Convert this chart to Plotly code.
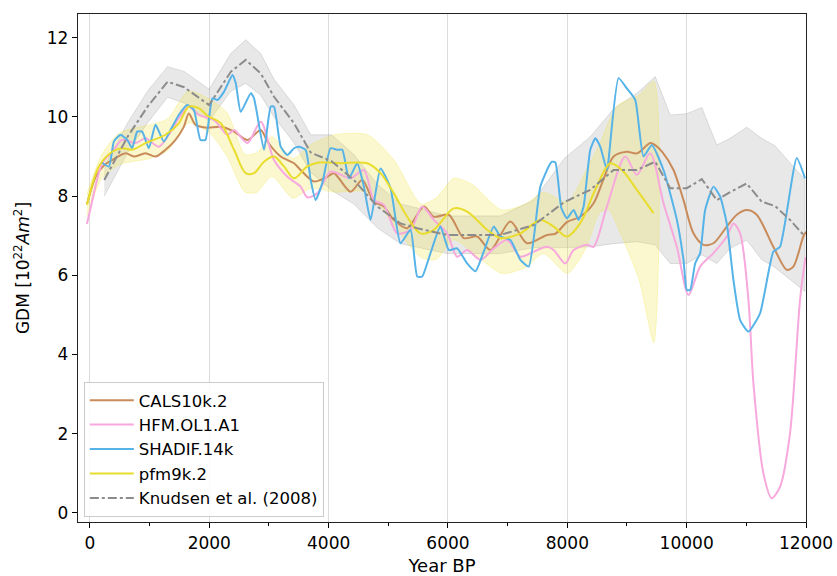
import plotly.graph_objects as go

# ---------------- data ----------------
cals_years = [-50, 100, 250, 373, 597, 736, 931, 1099, 1266, 1434, 1573, 1657, 1769, 1964, 2192, 2415,
              2639, 2862, 2974, 3197, 3420, 3531, 3754, 3978, 4089, 4368, 4563, 4758, 4926, 5093, 5317,
              5596, 5763, 6014, 6265, 6488, 6712, 7046, 7325, 7660, 7800, 8000, 8217, 8440, 8600, 8775,
              8998, 9166, 9389, 9473, 9600, 9780, 9947, 10114, 10282, 10449, 10672, 10840, 11006, 11174,
              11453, 11677, 11788, 11955, 12000]
cals_vals = [7.8, 8.5, 8.8, 8.91, 9.08, 9.0, 9.08, 9.0, 9.17, 9.42, 9.75, 10.09, 9.8, 9.73, 9.75, 9.63,
             9.42, 9.67, 9.38, 9.0, 8.83, 8.66, 8.37, 8.49, 8.58, 8.11, 8.41, 7.86, 7.74, 7.4, 7.19,
             7.74, 7.48, 7.53, 6.94, 6.98, 6.64, 7.36, 6.81, 7.02, 7.05, 7.35, 7.48, 7.82, 8.4, 9.0,
             9.12, 9.08, 9.34, 9.29, 9.1, 8.66, 7.9, 7.06, 6.77, 6.81, 7.23, 7.53, 7.65, 7.53,
             6.72, 6.14, 6.22, 6.98, 7.1]

hfm_years = [-50, 10, 206, 373, 541, 764, 931, 1155, 1322, 1489, 1657, 1824, 2081, 2304, 2415, 2639,
             2862, 3085, 3309, 3531, 3643, 3810, 4033, 4368, 4591, 4758, 4926, 5149, 5373, 5568, 5763,
             5987, 6153, 6321, 6544, 6767, 6990, 7214, 7437, 7660, 7771, 7966, 8106, 8329, 8440, 8664,
             8971, 9166, 9389, 9612, 9836, 10031, 10226, 10449, 10672, 10784, 10896, 11035, 11119,
             11286, 11425, 11565, 11732, 11900, 11990]
hfm_vals = [7.3, 7.69, 8.83, 9.12, 9.42, 9.34, 9.46, 9.25, 9.55, 9.97, 10.26, 10.05, 9.92, 9.55, 9.67, 9.34,
            9.88, 8.91, 8.49, 8.24, 7.97, 8.07, 8.62, 8.45, 8.66, 7.9, 7.78, 7.06, 7.15, 7.74, 7.4,
            7.06, 6.47, 6.64, 6.39, 6.68, 6.89, 6.47, 6.6, 6.72, 6.64, 6.3, 6.64, 6.77, 6.72, 7.74,
            9.0, 8.54, 9.08, 7.82, 6.72, 5.5, 6.22, 6.56, 6.98, 7.31, 7.06, 5.38, 3.27,
            1.0, 0.37, 0.66, 2.01, 5.38, 6.45]

shadif_years = [200, 318, 402, 513, 625, 708, 792, 875, 987, 1099, 1238, 1378, 1489, 1629, 1741, 1852,
                1936, 2053, 2137, 2248, 2388, 2444, 2527, 2695, 2750, 2917, 3029, 3085, 3197, 3309, 3420,
                3503, 3615, 3699, 3782, 3894, 4033, 4145, 4229, 4340, 4480, 4591, 4703, 4870, 5038, 5205,
                5373, 5485, 5568, 5707, 5874, 6014, 6153, 6321, 6460, 6600, 6767, 6879, 7046, 7214, 7353,
                7548, 7688, 7743, 7800, 7900, 7994, 8106, 8190, 8273, 8385, 8469, 8552, 8664, 8691, 8859,
                8998, 9138, 9277, 9417, 9612, 9836, 9947, 10003, 10059, 10142, 10226, 10310, 10449, 10561,
                10672, 10784, 10896, 11035, 11230, 11453, 11565, 11844, 11983]
shadif_vals = [8.85, 8.75, 9.38, 9.55, 9.42, 9.21, 9.63, 9.63, 9.21, 9.8, 9.38, 9.75, 10.05, 10.3, 10.18, 9.42,
               9.42, 10.47, 10.43, 10.64, 11.06, 10.85, 10.13, 10.6, 10.47, 9.17, 10.26, 10.26, 9.25, 9.04, 9.21,
               9.25, 9.17, 8.41, 7.9, 8.33, 9.21, 9.17, 9.17, 8.45, 8.83, 8.24, 7.4, 8.7, 8.2, 6.81,
               7.15, 5.97, 5.97, 6.56, 7.23, 6.64, 6.68, 6.3, 6.1, 6.6, 7.23, 6.98, 6.89, 6.39, 6.22,
               8.24, 8.75, 8.87, 8.85, 7.7, 7.44, 7.65, 7.4, 7.74, 9.17, 9.46, 9.25, 8.66, 8.91, 10.98,
               10.72, 10.43, 9.0, 9.29, 8.66, 7.4, 6.39, 5.63, 5.63, 6.3, 6.56, 7.65, 8.24, 7.99,
               7.31, 5.88, 4.87, 4.58, 5.04, 6.6, 6.72, 8.96, 8.45]

pfm_years = [-50, 150, 373, 541, 708, 931, 1266, 1489, 1657, 1824, 1969, 2192, 2415, 2611, 2750, 2917,
             3085, 3252, 3420, 3643, 3838, 4200, 4647, 4870, 5093, 5317, 5540, 5763, 6097, 6321, 6656,
             6879, 7214, 7548, 7771, 7994, 8217, 8469, 8720, 8915, 9166, 9445]
pfm_vals = [7.78, 8.75, 9.12, 9.21, 9.17, 9.34, 9.55, 9.84, 10.26, 10.22, 10.03, 9.84, 9.17, 8.58, 8.58, 8.87,
            9.0, 8.75, 8.45, 8.75, 8.85, 8.83, 8.83, 8.58, 8.07, 7.48, 7.06, 7.15, 7.69, 7.61, 7.15,
            6.94, 7.06, 7.4, 7.23, 6.98, 7.32, 8.16, 8.83, 8.66, 8.16, 7.57]

pfm_band_years = [-50, 200, 500, 1000, 1300, 1650, 2000, 2300, 2600, 2800, 3050, 3400, 3700, 4100, 4650,
                  5100, 5550, 5800, 6100, 6400, 6900, 7300, 7600, 8000, 8300, 8550, 8700, 8850, 9200, 9450]
pfm_upper = [8.05, 9.05, 9.6, 9.8, 9.95, 10.65, 10.45, 10.1, 9.05, 9.1, 9.5, 8.95, 9.3, 9.55, 9.55,
             8.9, 7.8, 7.95, 8.45, 8.3, 7.65, 7.8, 8.1, 7.85, 8.6, 9.35, 9.9, 10.3, 10.55, 10.9]
pfm_lower = [7.5, 8.45, 8.8, 8.95, 9.15, 9.85, 9.6, 9.0, 8.1, 8.1, 8.5, 7.95, 8.2, 8.1, 8.1,
             7.25, 6.45, 6.4, 6.9, 6.6, 6.05, 6.2, 6.55, 6.05, 6.65, 7.6, 7.65, 7.2, 5.9, 4.3]

knud_years = [240, 631, 965, 1300, 1579, 1997, 2360, 2611, 2862, 3085, 3420, 3700, 4050, 4423, 4815, 5205,
              5485, 5987, 6879, 7437, 7950, 8385, 8775, 9166, 9473, 9724, 10003, 10254, 10505, 10728,
              11006, 11257, 11481, 11732, 11983]
knud_vals = [8.41, 9.5, 10.26, 10.89, 10.75, 10.3, 11.14, 11.44, 11.1, 10.51, 9.84, 9.1, 8.88, 8.41, 7.74, 7.31,
             7.19, 7.02, 7.02, 7.27, 7.85, 8.16, 8.66, 8.66, 8.87, 8.2, 8.2, 8.43, 7.9, 8.1,
             8.32, 7.86, 7.75, 7.4, 6.98]
knud_upper = [8.75, 9.85, 10.65, 11.27, 11.15, 10.7, 11.6, 11.95, 11.6, 10.95, 10.3, 9.55, 9.55, 9.05, 8.3, 7.8,
              7.7, 7.5, 7.5, 7.9, 8.95, 9.5, 10.2, 10.6, 11.02, 10.05, 10.08, 10.24, 9.29, 9.46,
              9.74, 9.46, 9.27, 8.83, 8.41]
knud_lower = [8.0, 9.1, 9.85, 10.5, 10.35, 9.9, 10.65, 10.85, 10.55, 10.0, 9.35, 8.6, 8.15, 7.8, 7.2, 6.8,
              6.7, 6.55, 6.55, 6.7, 6.7, 6.72, 6.8, 6.85, 6.77, 6.3, 6.3, 6.52, 6.3, 6.68,
              6.89, 6.4, 6.2, 5.9, 5.59]

x_ticks = [0, 2000, 4000, 6000, 8000, 10000, 12000]
y_ticks = [0, 2, 4, 6, 8, 10, 12]

# ---------------- styles ----------------
C_CALS = "#C98B5A"
C_HFM = "#F7A8DC"
C_SHADIF = "#55B3E8"
C_PFM = "#E8DC2C"
C_KNUD = "#8C8C8C"

fig = go.Figure()

# uncertainty bands
fig.add_trace(go.Scatter(
    x=knud_years + knud_years[::-1], y=knud_upper + knud_lower[::-1],
    fill="toself", fillcolor="rgba(140,140,140,0.2)",
    line=dict(color="rgba(140,140,140,0.25)", width=1), mode="lines",
    showlegend=False, hoverinfo="skip"))
fig.add_trace(go.Scatter(
    x=pfm_band_years + pfm_band_years[::-1], y=pfm_upper + pfm_lower[::-1],
    fill="toself", fillcolor="rgba(240,228,66,0.25)",
    line=dict(color="rgba(240,228,66,0.3)", width=1, shape="spline", smoothing=0.7), mode="lines",
    showlegend=False, hoverinfo="skip"))

fig.add_trace(go.Scatter(x=cals_years, y=cals_vals, name="CALS10k.2", mode="lines",
                         line=dict(color=C_CALS, width=2, shape="spline", smoothing=0.8)))
fig.add_trace(go.Scatter(x=hfm_years, y=hfm_vals, name="HFM.OL1.A1", mode="lines",
                         line=dict(color=C_HFM, width=2, shape="spline", smoothing=0.8)))
fig.add_trace(go.Scatter(x=shadif_years, y=shadif_vals, name="SHADIF.14k", mode="lines",
                         line=dict(color=C_SHADIF, width=2, shape="spline", smoothing=0.5)))
fig.add_trace(go.Scatter(x=pfm_years, y=pfm_vals, name="pfm9k.2", mode="lines",
                         line=dict(color=C_PFM, width=2, shape="spline", smoothing=0.9)))
fig.add_trace(go.Scatter(x=knud_years, y=knud_vals, name="Knudsen et al. (2008)", mode="lines",
                         line=dict(color=C_KNUD, width=2, dash="dashdot")))

fig.update_layout(
    width=837, height=576,
    margin=dict(l=78, r=31, t=14, b=54, autoexpand=False),
    paper_bgcolor="white", plot_bgcolor="white",
    font=dict(family="DejaVu Sans", size=17, color="black"),
    showlegend=True,
    legend=dict(x=0.008, y=0.01, xanchor="left", yanchor="bottom",
                bgcolor="rgba(255,255,255,0.85)", bordercolor="#cccccc", borderwidth=1,
                font=dict(size=16.5), tracegroupgap=0, itemwidth=44),
)
fig.update_xaxes(
    automargin=False,
    range=[-200, 12000], tickvals=x_ticks, ticktext=[str(v) for v in x_ticks],
    ticks="outside", ticklen=5, tickwidth=1.2, tickcolor="black",
    showline=True, linecolor="#222222", linewidth=1.3, mirror=True,
    showgrid=True, gridcolor="#dcdcdc", gridwidth=1, zeroline=False,
    minor=dict(dtick=1000, tick0=0, ticks="outside", ticklen=3, tickwidth=1, tickcolor="black", showgrid=False),
    title=dict(text="Year BP", font=dict(size=18), standoff=8),
)
fig.update_yaxes(
    automargin=False,
    range=[-0.23, 12.6], tickvals=y_ticks, ticktext=[str(v) for v in y_ticks],
    ticks="outside", ticklen=5, tickwidth=1.2, tickcolor="black",
    showline=True, linecolor="#222222", linewidth=1.3, mirror=True,
    showgrid=False, zeroline=False,
    title=dict(text="GDM [10<sup>22</sup><i>Am</i><sup>2</sup>]", font=dict(size=17), standoff=12),
)

fig.write_html("out.html")
